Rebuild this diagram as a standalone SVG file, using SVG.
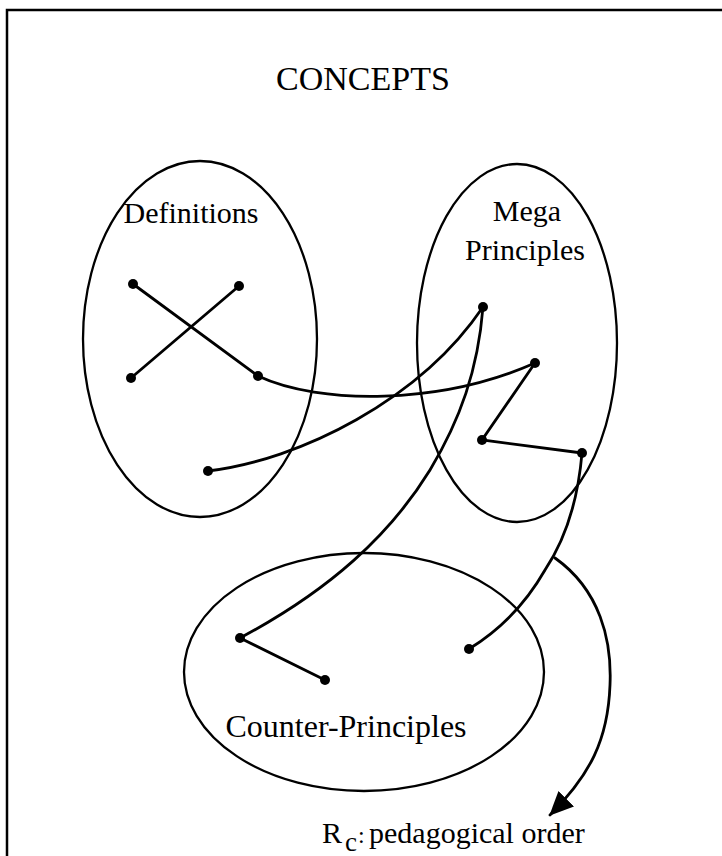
<svg xmlns="http://www.w3.org/2000/svg" width="722" height="856" viewBox="0 0 722 856">
  <style>
    .lbl { font-family: "Liberation Serif", "Times New Roman", serif; font-size: 30px; fill: #000; }
    .set { fill: none; stroke: #000; stroke-width: 2.3; }
    .link { fill: none; stroke: #000; stroke-width: 2.8; stroke-linecap: round; }
    .pt { fill: #000; }
  </style>
  <defs>
    <marker id="bighead" viewBox="0 0 24 22" refX="23" refY="11" markerWidth="24" markerHeight="22" markerUnits="userSpaceOnUse" orient="auto">
      <path d="M0,0 L24,11 L0,22 Z" fill="#000"/>
    </marker>
  </defs>

  <rect width="722" height="856" fill="#fff"/>

  <!-- frame: top and left edges -->
  <polyline points="722,10 7,10 7,856" fill="none" stroke="#000" stroke-width="2.5"/>

  <text class="lbl" x="363" y="90" text-anchor="middle" style="font-size:34px">CONCEPTS</text>

  <g id="definitions">
    <ellipse class="set" cx="200" cy="339" rx="117" ry="178"/>
    <text class="lbl" x="191" y="223" text-anchor="middle">Definitions</text>
    <circle class="pt" cx="133" cy="284" r="5"/>
    <circle class="pt" cx="239" cy="286" r="5"/>
    <circle class="pt" cx="131" cy="378" r="5"/>
    <circle class="pt" cx="258" cy="376" r="5"/>
    <circle class="pt" cx="208" cy="471" r="5"/>
  </g>

  <g id="mega-principles">
    <ellipse class="set" cx="517" cy="343" rx="100" ry="179"/>
    <text class="lbl" x="527" y="221" text-anchor="middle">Mega</text>
    <text class="lbl" x="525" y="260" text-anchor="middle">Principles</text>
    <circle class="pt" cx="483" cy="307" r="5"/>
    <circle class="pt" cx="535" cy="363" r="5"/>
    <circle class="pt" cx="482" cy="440" r="5"/>
    <circle class="pt" cx="582" cy="453" r="5"/>
  </g>

  <g id="counter-principles">
    <ellipse class="set" cx="364" cy="672" rx="180" ry="119"/>
    <text class="lbl" x="346" y="737" text-anchor="middle" style="font-size:32px">Counter-Principles</text>
    <circle class="pt" cx="240" cy="638" r="5"/>
    <circle class="pt" cx="325" cy="680" r="5"/>
    <circle class="pt" cx="469" cy="649" r="5"/>
  </g>

  <g id="order-label">
    <text class="lbl" x="322" y="843">R<tspan x="345" y="851" style="font-size:27px">c</tspan><tspan x="358" y="843" style="font-size:24px">:</tspan><tspan x="369" y="843">pedagogical order</tspan></text>
  </g>

  <g id="connectors">
    <path class="link" d="M133,284 L258,376"/>
    <path class="link" d="M239,286 L131,378"/>
    <path class="link" d="M258,376 C320,405 440,405 535,363"/>
    <path class="link" d="M208,471 C300,460 420,400 483,307"/>
    <path class="link" d="M483,307 C478,370 460,420 430,470 C390,535 330,590 240,638"/>
    <path class="link" d="M240,638 L325,680"/>
    <path class="link" d="M535,363 L482,440 L582,453"/>
    <path class="link" d="M582,453 C578,500 565,540 545,570 C525,605 500,630 469,649"/>
    <path class="link" d="M555,558 C600,590 612,640 610,685 C608,740 590,775 550,815" marker-end="url(#bighead)"/>
  </g>
</svg>
